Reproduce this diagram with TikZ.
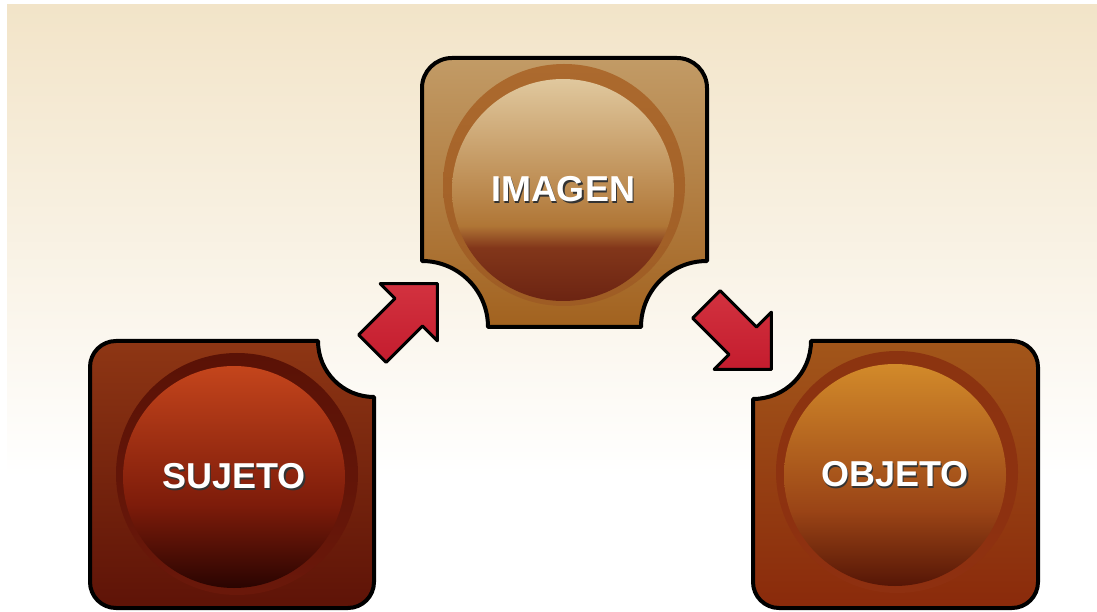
\documentclass[tikz,border=0pt]{standalone}
\usepackage{fontspec}
\setmainfont{Liberation Sans}
\usetikzlibrary{shapes.arrows}

% backdrop and box colours
\definecolor{paper}{HTML}{F2E4C8}
\definecolor{sujboxT}{HTML}{8E3614}
\definecolor{sujboxB}{HTML}{5E1307}
\definecolor{sujringT}{HTML}{5A1206}
\definecolor{sujringB}{HTML}{6A180A}
\definecolor{sujballT}{HTML}{C4451C}
\definecolor{sujballM}{HTML}{7E1C0A}
\definecolor{sujballB}{HTML}{2A0401}
\definecolor{imgboxT}{HTML}{C29B66}
\definecolor{imgboxB}{HTML}{A2621F}
\definecolor{imgringT}{HTML}{AC6A2E}
\definecolor{imgringB}{HTML}{9E5C24}
\definecolor{imgballT}{HTML}{E0C89E}
\definecolor{imgballM}{HTML}{B07636}
\definecolor{imgballH}{HTML}{82361A}
\definecolor{imgballB}{HTML}{6C2412}
\definecolor{objboxT}{HTML}{A2561A}
\definecolor{objboxB}{HTML}{8A2A0B}
\definecolor{objringT}{HTML}{8C3410}
\definecolor{objringB}{HTML}{8E3010}
\definecolor{objballT}{HTML}{D28A2A}
\definecolor{objballM}{HTML}{9A4416}
\definecolor{objballB}{HTML}{561606}
\definecolor{arrowA}{HTML}{C41C2E}
\definecolor{arrowB}{HTML}{D2323F}

\pgfdeclareverticalshading{backdrop}{100bp}{color(0bp)=(white); color(36bp)=(white);
  color(75bp)=(paper); color(100bp)=(paper)}
\pgfdeclareverticalshading{sujball}{100bp}{color(0bp)=(sujballB); color(25bp)=(sujballB);
  color(44bp)=(sujballM); color(75bp)=(sujballT); color(100bp)=(sujballT)}
\pgfdeclareverticalshading{imgball}{100bp}{color(0bp)=(imgballB); color(25bp)=(imgballB);
  color(37bp)=(imgballH); color(42bp)=(imgballM); color(75bp)=(imgballT); color(100bp)=(imgballT)}
\pgfdeclareverticalshading{objball}{100bp}{color(0bp)=(objballB); color(25bp)=(objballB);
  color(42bp)=(objballM); color(75bp)=(objballT); color(100bp)=(objballT)}

% white label with a dark drop shadow
\newcommand{\shadowtext}[1]{\makebox[0pt][l]{\kern1.5pt\raisebox{-1.5pt}{\color{black!80}#1}}#1}

\begin{document}
\begin{tikzpicture}[
  x=1pt, y=1pt,
  box/.style={draw=black, line width=4pt, line join=round},
  ring/.style={circle, inner sep=0pt, minimum size=242pt},
  ball/.style={circle, inner sep=0pt, minimum size=222pt, text=white,
    font=\fontsize{36}{40}\selectfont\bfseries},
  fat/.style={single arrow, draw=black, line width=3pt, line join=round,
    top color=arrowB, bottom color=arrowA, inner xsep=0pt, inner ysep=18pt,
    minimum height=92pt, single arrow head extend=21pt, single arrow tip angle=90}
]
\useasboundingbox (0,0) rectangle (1097,611);
\fill[white] (0,0) rectangle (1097,611);
\shade[shading=backdrop] (7,0) rectangle (1097,606);

% SUJETO, notch top right
\begin{scope}[shift={(90,3)}]
\draw[box, top color=sujboxT, bottom color=sujboxB]
  (0,26) -- (0,241) arc[start angle=180, end angle=90, radius=26]
  -- (228,267) arc[start angle=180, end angle=270, radius=56]
  -- (284,26) arc[start angle=0, end angle=-90, radius=26]
  -- (26,0) arc[start angle=270, end angle=180, radius=26] -- cycle;
\node[ring, top color=sujringT, bottom color=sujringB] (sujring) at (147,134) {};
\node[ball, shading=sujball] (suj) at (144,131) {\shadowtext{SUJETO}};
\end{scope}

% IMAGEN, notches bottom left and right
\begin{scope}[shift={(422,284)}]
\draw[box, top color=imgboxT, bottom color=imgboxB]
  (0,66) -- (0,239) arc[start angle=180, end angle=90, radius=30]
  -- (255,269) arc[start angle=90, end angle=0, radius=30]
  -- (285,66) arc[start angle=90, end angle=180, radius=66]
  -- (66,0) arc[start angle=0, end angle=90, radius=66] -- cycle;
\node[ring, top color=imgringT, bottom color=imgringB] (imgring) at (142,142) {};
\node[ball, shading=imgball] (img) at (141,137) {\shadowtext{IMAGEN}};
\end{scope}

% OBJETO, notch top left
\begin{scope}[shift={(753,3)}]
\draw[box, top color=objboxT, bottom color=objboxB]
  (0,26) -- (0,209) arc[start angle=270, end angle=360, radius=58]
  -- (259,267) arc[start angle=90, end angle=0, radius=26]
  -- (285,26) arc[start angle=0, end angle=-90, radius=26]
  -- (26,0) arc[start angle=270, end angle=180, radius=26] -- cycle;
\node[ring, top color=objringT, bottom color=objringB] (objring) at (144,136) {};
\node[ball, shading=objball] (obj) at (142,133) {\shadowtext{OBJETO}};
\end{scope}

\node[fat, rotate=45] (toimg) at (398,288) {};
\node[fat, rotate=-45] (toobj) at (732,281) {};
\end{tikzpicture}
\end{document}
